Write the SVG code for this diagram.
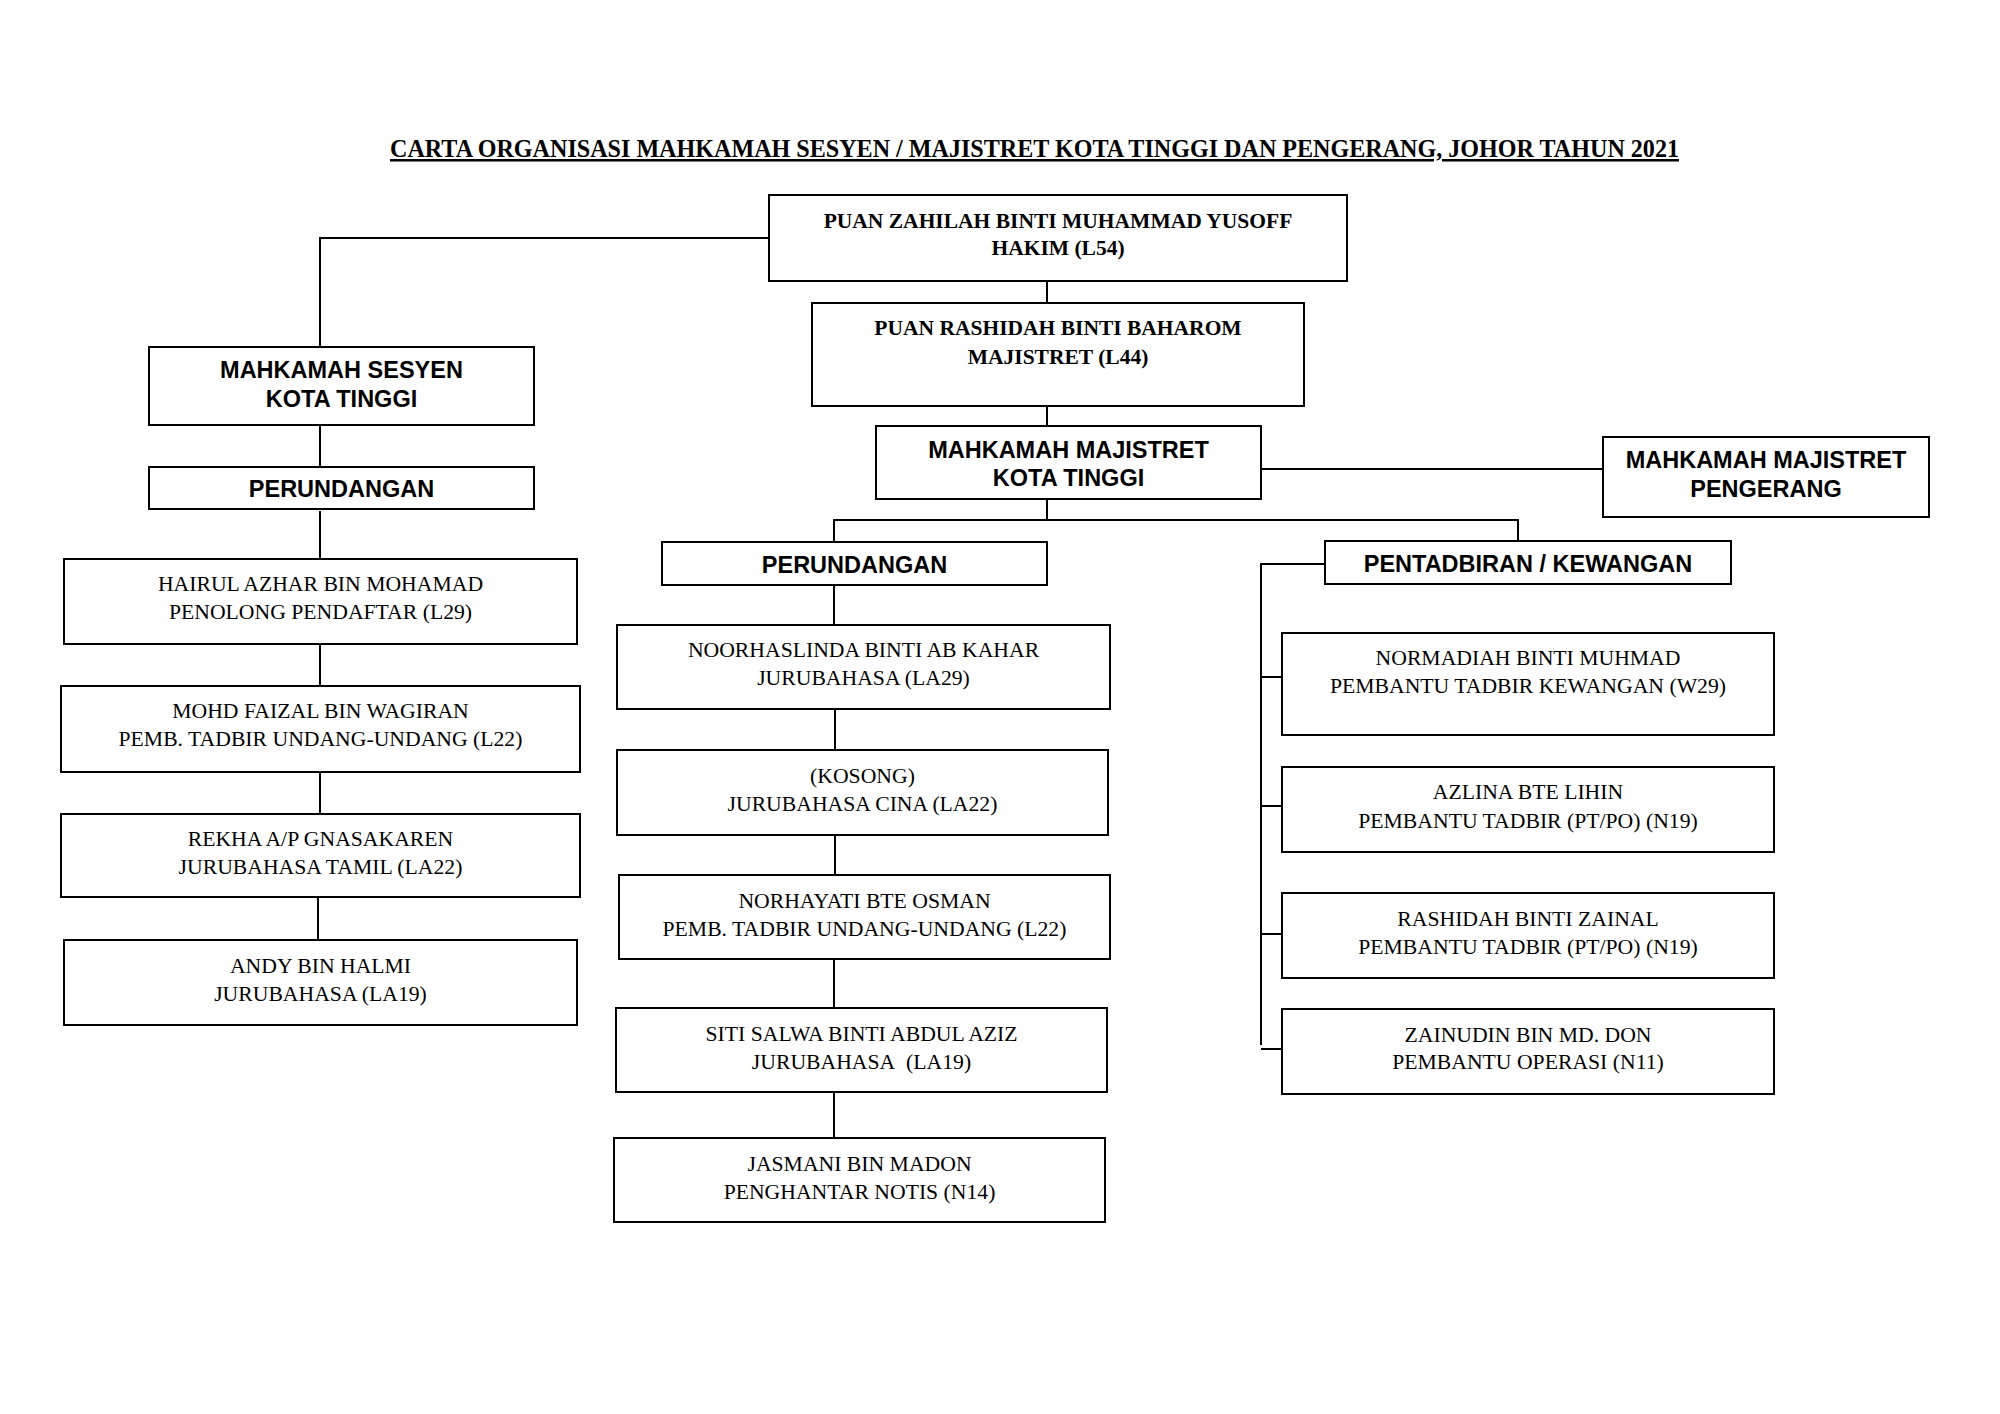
<svg xmlns="http://www.w3.org/2000/svg" width="2000" height="1414" viewBox="0 0 2000 1414">
<style>
.box{fill:#fff;stroke:#000;stroke-width:2}
.conn path{fill:none;stroke:#000;stroke-width:2}
.hs{font-family:"Liberation Sans",Arial,sans-serif;font-weight:bold;font-size:23.5px;text-anchor:middle;fill:#000}
.bs{font-family:"Liberation Serif","Times New Roman",serif;font-weight:bold;font-size:21.5px;text-anchor:middle;fill:#000}
.rs{font-family:"Liberation Serif","Times New Roman",serif;font-size:21.7px;text-anchor:middle;fill:#000}
.title{font-family:"Liberation Serif","Times New Roman",serif;font-weight:bold;font-size:25px;fill:#000;text-decoration:underline}
</style>
<rect x="0" y="0" width="2000" height="1414" fill="#fff"/>
<text class="title" x="390" y="157" textLength="1289" lengthAdjust="spacingAndGlyphs">CARTA ORGANISASI MAHKAMAH SESYEN / MAJISTRET KOTA TINGGI DAN PENGERANG, JOHOR TAHUN 2021</text>

<g class="conn" id="connectors">
<path d="M769,238 H320 V347"/>
<path d="M1047,281 V303"/>
<path d="M1047,406 V426"/>
<path d="M1261,469 H1603"/>
<path d="M1047,499 V520"/>
<path d="M834,542 V520 H1518 V541"/>
<path d="M320,425 V467"/>
<path d="M320,511 V559"/>
<path d="M320,644 V686"/>
<path d="M320,772 V814"/>
<path d="M318,897 V940"/>
<path d="M834,585 V625"/>
<path d="M835,709 V750"/>
<path d="M835,835 V875"/>
<path d="M834,959 V1008"/>
<path d="M834,1092 V1138"/>
<path d="M1325,564 H1261 V1045"/>
<path d="M1261,677 H1282"/>
<path d="M1261,806 H1282"/>
<path d="M1261,934 H1282"/>
<path d="M1261,1049 H1282"/>
</g>

<g id="hakim"><rect class="box" x="769" y="195" width="578" height="86"/>
<text class="bs" x="1058" y="228">PUAN ZAHILAH BINTI MUHAMMAD YUSOFF</text>
<text class="bs" x="1058" y="255">HAKIM (L54)</text></g>

<g id="majistret"><rect class="box" x="812" y="303" width="492" height="103"/>
<text class="bs" x="1058" y="335">PUAN RASHIDAH BINTI BAHAROM</text>
<text class="bs" x="1058" y="364">MAJISTRET (L44)</text></g>

<g id="ms-kota-tinggi"><rect class="box" x="149" y="347" width="385" height="78"/>
<text class="hs" x="341.5" y="378">MAHKAMAH SESYEN</text>
<text class="hs" x="341.5" y="407">KOTA TINGGI</text></g>

<g id="perundangan-ms"><rect class="box" x="149" y="467" width="385" height="42"/>
<text class="hs" x="341.5" y="497">PERUNDANGAN</text></g>

<g id="mm-kota-tinggi"><rect class="box" x="876" y="426" width="385" height="73"/>
<text class="hs" x="1068.5" y="458">MAHKAMAH MAJISTRET</text>
<text class="hs" x="1068.5" y="486">KOTA TINGGI</text></g>

<g id="mm-pengerang"><rect class="box" x="1603" y="437" width="326" height="80"/>
<text class="hs" x="1766" y="468">MAHKAMAH MAJISTRET</text>
<text class="hs" x="1766" y="497">PENGERANG</text></g>

<g id="perundangan-mm"><rect class="box" x="662" y="542" width="385" height="43"/>
<text class="hs" x="854.5" y="573">PERUNDANGAN</text></g>

<g id="pentadbiran"><rect class="box" x="1325" y="541" width="406" height="43"/>
<text class="hs" x="1528" y="572">PENTADBIRAN / KEWANGAN</text></g>

<g id="hairul"><rect class="box" x="64" y="559" width="513" height="85"/>
<text class="rs" x="320.5" y="591">HAIRUL AZHAR BIN MOHAMAD</text>
<text class="rs" x="320.5" y="619">PENOLONG PENDAFTAR (L29)</text></g>

<g id="faizal"><rect class="box" x="61" y="686" width="519" height="86"/>
<text class="rs" x="320.5" y="718">MOHD FAIZAL BIN WAGIRAN</text>
<text class="rs" x="320.5" y="746">PEMB. TADBIR UNDANG-UNDANG (L22)</text></g>

<g id="rekha"><rect class="box" x="61" y="814" width="519" height="83"/>
<text class="rs" x="320.5" y="846">REKHA A/P GNASAKAREN</text>
<text class="rs" x="320.5" y="874">JURUBAHASA TAMIL (LA22)</text></g>

<g id="andy"><rect class="box" x="64" y="940" width="513" height="85"/>
<text class="rs" x="320.5" y="973">ANDY BIN HALMI</text>
<text class="rs" x="320.5" y="1001">JURUBAHASA (LA19)</text></g>

<g id="noorhaslinda"><rect class="box" x="617" y="625" width="493" height="84"/>
<text class="rs" x="863.5" y="657">NOORHASLINDA BINTI AB KAHAR</text>
<text class="rs" x="863.5" y="685">JURUBAHASA (LA29)</text></g>

<g id="kosong"><rect class="box" x="617" y="750" width="491" height="85"/>
<text class="rs" x="862.5" y="783">(KOSONG)</text>
<text class="rs" x="862.5" y="811">JURUBAHASA CINA (LA22)</text></g>

<g id="norhayati"><rect class="box" x="619" y="875" width="491" height="84"/>
<text class="rs" x="864.5" y="908">NORHAYATI BTE OSMAN</text>
<text class="rs" x="864.5" y="936">PEMB. TADBIR UNDANG-UNDANG (L22)</text></g>

<g id="siti"><rect class="box" x="616" y="1008" width="491" height="84"/>
<text class="rs" x="861.5" y="1041">SITI SALWA BINTI ABDUL AZIZ</text>
<text class="rs" x="861.5" y="1069">JURUBAHASA&#160; (LA19)</text></g>

<g id="jasmani"><rect class="box" x="614" y="1138" width="491" height="84"/>
<text class="rs" x="859.5" y="1171">JASMANI BIN MADON</text>
<text class="rs" x="859.5" y="1199">PENGHANTAR NOTIS (N14)</text></g>

<g id="normadiah"><rect class="box" x="1282" y="633" width="492" height="102"/>
<text class="rs" x="1528" y="665">NORMADIAH BINTI MUHMAD</text>
<text class="rs" x="1528" y="693">PEMBANTU TADBIR KEWANGAN (W29)</text></g>

<g id="azlina"><rect class="box" x="1282" y="767" width="492" height="85"/>
<text class="rs" x="1528" y="799">AZLINA BTE LIHIN</text>
<text class="rs" x="1528" y="828">PEMBANTU TADBIR (PT/PO) (N19)</text></g>

<g id="rashidah-zainal"><rect class="box" x="1282" y="893" width="492" height="85"/>
<text class="rs" x="1528" y="926">RASHIDAH BINTI ZAINAL</text>
<text class="rs" x="1528" y="954">PEMBANTU TADBIR (PT/PO) (N19)</text></g>

<g id="zainudin"><rect class="box" x="1282" y="1009" width="492" height="85"/>
<text class="rs" x="1528" y="1042">ZAINUDIN BIN MD. DON</text>
<text class="rs" x="1528" y="1069">PEMBANTU OPERASI (N11)</text></g>
</svg>
